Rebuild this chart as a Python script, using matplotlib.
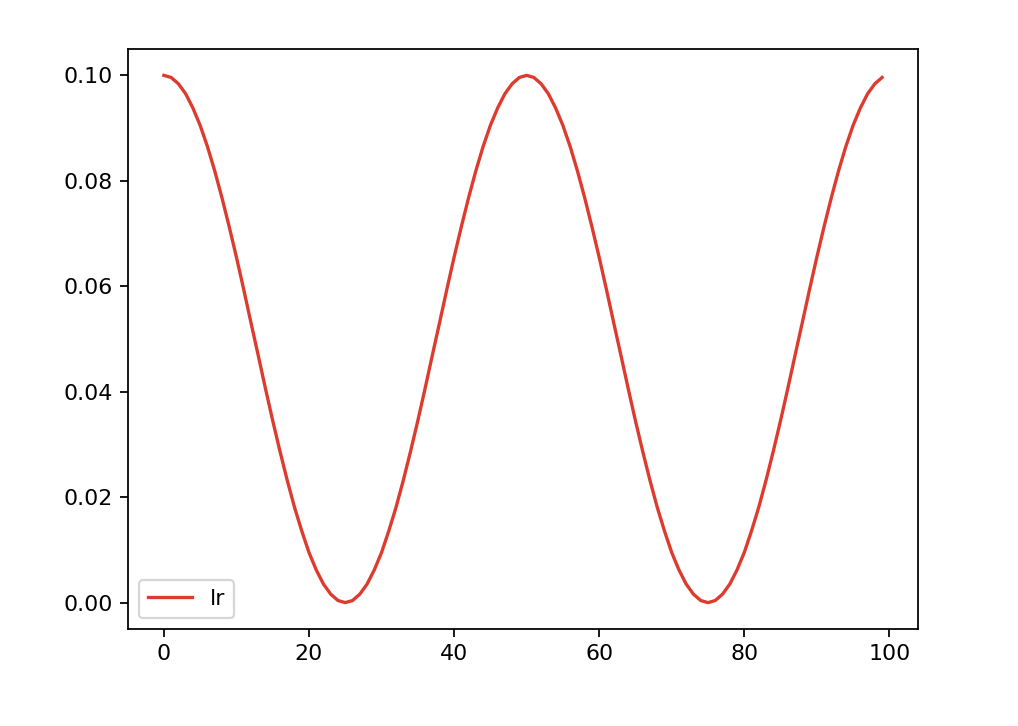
import matplotlib
matplotlib.use("Agg")
import matplotlib.pyplot as plt

# learning rate per epoch
lr = [
    0.1000, 0.0996, 0.0984, 0.0965, 0.0938, 0.0905, 0.0865, 0.0819, 0.0768, 0.0713,
    0.0655, 0.0594, 0.0531, 0.0469, 0.0406, 0.0345, 0.0287, 0.0232, 0.0181, 0.0136,
    0.0095, 0.0062, 0.0035, 0.0016, 0.0004, 0.0000, 0.0004, 0.0016, 0.0035, 0.0062,
    0.0095, 0.0136, 0.0181, 0.0232, 0.0287, 0.0345, 0.0406, 0.0469, 0.0531, 0.0594,
    0.0655, 0.0713, 0.0768, 0.0819, 0.0865, 0.0905, 0.0938, 0.0965, 0.0984, 0.0996,
    0.1000, 0.0996, 0.0984, 0.0965, 0.0938, 0.0905, 0.0865, 0.0819, 0.0768, 0.0713,
    0.0655, 0.0594, 0.0531, 0.0469, 0.0406, 0.0345, 0.0287, 0.0232, 0.0181, 0.0136,
    0.0095, 0.0062, 0.0035, 0.0016, 0.0004, 0.0000, 0.0004, 0.0016, 0.0035, 0.0062,
    0.0095, 0.0136, 0.0181, 0.0232, 0.0287, 0.0345, 0.0406, 0.0469, 0.0531, 0.0594,
    0.0655, 0.0713, 0.0768, 0.0819, 0.0865, 0.0905, 0.0938, 0.0965, 0.0984, 0.0996,
]
epochs = list(range(len(lr)))

dpi = 159
fig = plt.figure(figsize=(1018 / dpi, 726 / dpi), dpi=dpi)
ax = fig.add_axes([128 / 1018, 1 - 629 / 726, 790 / 1018, 580 / 726])
ax.plot(epochs, lr, color='#dc3b2e', label='lr')
ax.legend(loc='lower left')

fig.savefig('out.png', dpi=dpi)
